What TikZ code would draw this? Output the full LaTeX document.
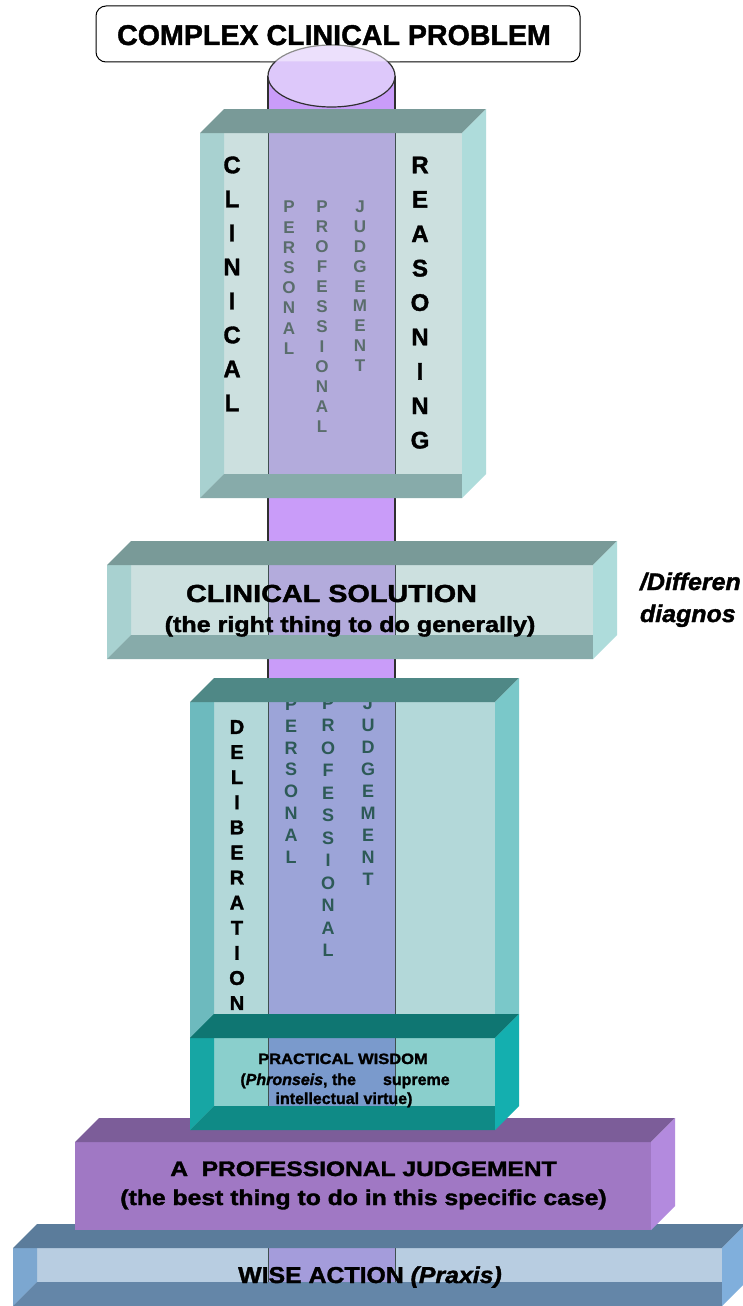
\documentclass[tikz,border=0pt]{standalone}
\usepackage{fontspec}
\usepackage{graphicx}
\setmainfont{Liberation Sans}[BoldFeatures={FakeBold=1.5},BoldItalicFeatures={FakeBold=1.5}]
\newfontfamily\plainsans{Liberation Sans}
\definecolor{cylpurple}{HTML}{C99CF9}
\definecolor{cyltop}{HTML}{DDC8FA}
\definecolor{cyledge}{HTML}{303030}
\definecolor{bandline}{HTML}{3F4F4F}
\definecolor{crfront}{HTML}{CCE0DF}
\definecolor{crcyl}{HTML}{B3ABDC}
\definecolor{crstrip}{HTML}{A8D1D0}
\definecolor{crfloor}{HTML}{87ABAA}
\definecolor{crtop}{HTML}{799A98}
\definecolor{crside}{HTML}{AEDCDB}
\definecolor{dlfront}{HTML}{B3D8D9}
\definecolor{dlcyl}{HTML}{9CA4D8}
\definecolor{dlstrip}{HTML}{6DBABE}
\definecolor{dlfloor}{HTML}{0F7672}
\definecolor{dltop}{HTML}{4F8886}
\definecolor{dlside}{HTML}{7AC8C9}
\definecolor{pwfront}{HTML}{8ACFCC}
\definecolor{pwcyl}{HTML}{7A9ACC}
\definecolor{pwstrip}{HTML}{17A6A4}
\definecolor{pwfloor}{HTML}{0F8A86}
\definecolor{pwtop}{HTML}{0F7672}
\definecolor{pwside}{HTML}{14AFAF}
\definecolor{pjfront}{HTML}{A078C4}
\definecolor{pjtop}{HTML}{7C5D99}
\definecolor{pjside}{HTML}{B38ADE}
\definecolor{wafront}{HTML}{B8CDE1}
\definecolor{wacyl}{HTML}{A49CDB}
\definecolor{wastrip}{HTML}{7CA7D0}
\definecolor{wafloor}{HTML}{6486A8}
\definecolor{watop}{HTML}{5B7C9B}
\definecolor{waside}{HTML}{80AFDC}
\definecolor{crsmall}{HTML}{5A6D6C}
\definecolor{dlsmall}{HTML}{2D5A57}
\newcommand{\fs}[1]{\fontsize{#1}{#1}\selectfont}
% back part of a glass box: x0 y0 x1 y1 front cyl
\newcommand{\boxback}[6]{%
  \fill[#5] (#1,#2) rectangle (#3,#4);
  \fill[#6] (268,#2) rectangle (395,#4-24);
  \draw[bandedge] (268,#2) -- (268,#4-24) (395,#2) -- (395,#4-24);
}
% front part of a glass box: x0 y0 x1 y1 strip floor top side
\newcommand{\boxfront}[8]{%
  \fill[#5] (#1,#2) -- (#1+24,#2) -- (#1+24,#4-24) -- (#1,#4) -- cycle;
  \fill[#6] (#1,#4) -- (#1+24,#4-24) -- (#3,#4-24) -- (#3,#4) -- cycle;
  \fill[#7] (#1,#2) -- (#1+24,#2-24) -- (#3+24,#2-24) -- (#3,#2) -- cycle;
  \fill[#8] (#3,#2) -- (#3+24,#2-24) -- (#3+24,#4-24) -- (#3,#4) -- cycle;
}
\begin{document}
\begin{tikzpicture}[x=1pt,y=-1pt,
  every node/.style={inner sep=0pt,outer sep=0pt},
  bandedge/.style={draw=bandline,line width=1pt},
  cylline/.style={draw=cyledge,line width=1.2pt},
  bigletter/.style={font=\fs{24}\bfseries,text=black},
  crletter/.style={font=\fs{17}\plainsans\bfseries,text=crsmall},
  dlbig/.style={font=\fs{20}\bfseries,text=black},
  dlletter/.style={font=\fs{18}\plainsans\bfseries,text=dlsmall}]
\fill[white] (0,0) rectangle (743,1306);
\useasboundingbox (0,0) rectangle (743,1306);
% cylinder body
\fill[cylpurple] (268,76) rectangle (395,1250);
\draw[cylline] (268,76) -- (268,1250) (395,76) -- (395,1250);
% top box
\draw[black,line width=1pt,fill=white,rounded corners=10pt] (96,6) rectangle (580,62);
\draw[fill=cyltop,cylline] (331.5,76) ellipse [x radius=63.5pt, y radius=31pt];
\begin{scope}
  \clip[rounded corners=10pt] (96.5,6.5) rectangle (579.5,61.5);
  \fill[white,opacity=0.45] (260,40) rectangle (400,62);
\end{scope}
\node[anchor=base,font=\fs{28.6}\bfseries] (title) at (334,45) {COMPLEX CLINICAL PROBLEM};

% ---- wise action
\boxback{13}{1248}{722}{1306}{wafront}{wacyl}
\boxfront{13}{1248}{722}{1306}{wastrip}{wafloor}{watop}{waside}
\node[anchor=base,font=\fs{23}\bfseries] (wa) at (370,1283) {\scalebox{1.08}[1]{WISE ACTION \textit{(Praxis)}}};

% ---- professional judgement
\fill[pjfront] (75,1142) rectangle (651,1230);
\fill[pjtop] (75,1142) -- (99,1118) -- (675,1118) -- (651,1142) -- cycle;
\fill[pjside] (651,1142) -- (675,1118) -- (675,1206) -- (651,1230) -- cycle;
\node[anchor=base,font=\fs{21}\bfseries] (pj1) at (363.5,1176) {\scalebox{1.17}[1]{A\ \ PROFESSIONAL JUDGEMENT}};
\node[anchor=base,font=\fs{21.5}\bfseries] (pj2) at (363.5,1205) {\scalebox{1.15}[1]{(the best thing to do in this specific case)}};

% ---- deliberation
\boxback{190}{702}{495}{1038}{dlfront}{dlcyl}
\foreach \c [count=\i from 0] in {D,E,L,I,B,E,R,A,T,I,O,N}
  \node[dlbig] (dl\i) at (237,727+25.1*\i) {\c};
\foreach \c [count=\i from 0] in {P,E,R,S,O,N,A,L}
  \node[dlletter] (dp\i) at (291,704+21.9*\i) {\c};
\foreach \c [count=\i from 0] in {P,R,O,F,E,S,S,I,O,N,A,L}
  \node[dlletter] (dq\i) at (328,703+22.5*\i) {\c};
\foreach \c [count=\i from 0] in {J,U,D,G,E,M,E,N,T}
  \node[dlletter] (dj\i) at (368,703+22*\i) {\c};
\boxfront{190}{702}{495}{1038}{dlstrip}{dlfloor}{dltop}{dlside}

% ---- practical wisdom
\boxback{190}{1038}{495}{1130}{pwfront}{pwcyl}
\boxfront{190}{1038}{495}{1130}{pwstrip}{pwfloor}{pwtop}{pwside}
\node[anchor=base,font=\fs{15}\bfseries] (pw1) at (343,1064) {\scalebox{1.1}[1]{PRACTICAL WISDOM}};
\node[anchor=base east,font=\fs{16}\bfseries] (pw2) at (356,1085) {(\textit{Phronseis}, the};
\node[anchor=base west,font=\fs{16}\bfseries] (pw3) at (383,1085) {supreme};
\node[anchor=base,font=\fs{16}\bfseries] (pw4) at (344,1104) {intellectual virtue)};

% ---- clinical solution
\boxback{107}{565}{593}{659}{crfront}{crcyl}
\boxfront{107}{565}{593}{659}{crstrip}{crfloor}{crtop}{crside}
\node[anchor=base,font=\fs{24.7}\bfseries] (cs1) at (331.5,602) {\scalebox{1.165}[1]{CLINICAL SOLUTION}};
\node[anchor=base,font=\fs{22}\bfseries] (cs2) at (350,632) {\scalebox{1.14}[1]{(the right thing to do generally)}};
\node[anchor=base west,font=\fs{24}\bfseries\itshape] (dd1) at (640,590) {\scalebox{1.04}[1]{/Differen}};
\node[anchor=base west,font=\fs{24}\bfseries\itshape] (dd2) at (640,622) {\scalebox{1.04}[1]{diagnos}};

% ---- clinical reasoning
\boxback{200}{133}{462}{498}{crfront}{crcyl}
\foreach \c [count=\i from 0] in {C,L,I,N,I,C,A,L}
  \node[bigletter] (cl\i) at (232,165+34*\i) {\c};
\foreach \c [count=\i from 0] in {R,E,A,S,O,N,I,N,G}
  \node[bigletter] (rs\i) at (420,165+34.4*\i) {\c};
\foreach \c [count=\i from 0] in {P,E,R,S,O,N,A,L}
  \node[crletter] (cp\i) at (289,207+20.2*\i) {\c};
\foreach \c [count=\i from 0] in {P,R,O,F,E,S,S,I,O,N,A,L}
  \node[crletter] (cq\i) at (322,207+20*\i) {\c};
\foreach \c [count=\i from 0] in {J,U,D,G,E,M,E,N,T}
  \node[crletter] (cj\i) at (360,207+19.8*\i) {\c};
\boxfront{200}{133}{462}{498}{crstrip}{crfloor}{crtop}{crside}
\end{tikzpicture}
\end{document}
